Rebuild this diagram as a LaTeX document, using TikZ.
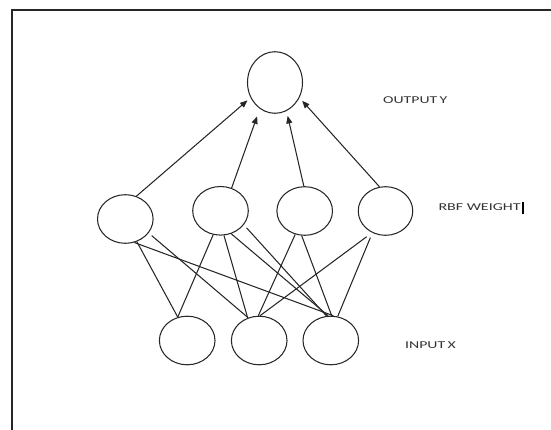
\documentclass[tikz,border=0pt]{standalone}
\usepackage{fontspec}
\setmainfont{Carlito}
\usetikzlibrary{shapes.geometric,arrows.meta,calc}
\begin{document}
\begin{tikzpicture}[x=1pt,y=-1pt,
  neuron/.style={ellipse,draw=black!85,line width=1.05pt,inner sep=0pt,minimum width=55.6pt,minimum height=48.6pt},
  wire/.style={draw=black!85,line width=1.05pt},
  arr/.style={wire,-{Triangle[length=7.5pt,width=6pt]}},
  lbl/.style={anchor=west,inner sep=0pt,text=black!80,font=\fontsize{10.5}{12}\selectfont}]
\useasboundingbox (0,0) rectangle (551,430);
% frame
\coordinate (fbl) at (11.5,431);
\coordinate (ftl) at (11.5,10.5);
\coordinate (ftr) at (552,10.5);
\draw[black!85,line width=2pt] (fbl) -- (ftl) -- (ftr);
% nodes
\node[neuron,minimum width=55pt,minimum height=61.6pt] (out) at (275,82.5) {};
\node[neuron] (h1) at (125.3,219) {};
\node[neuron] (h2) at (220.5,210.8) {};
\node[neuron] (h3) at (304.7,211) {};
\node[neuron,minimum width=54.5pt] (h4) at (385.5,211) {};
\node[neuron] (i1) at (187.2,340.5) {};
\node[neuron] (i2) at (259.2,340.5) {};
\node[neuron] (i3) at (330.8,340.5) {};
% arrows to output
\draw[arr,shorten >=4pt] (h1.64) -- (out.212);
\draw[arr,shorten >=8pt] (h2.64) -- (out.240);
\draw[arr,shorten >=5pt] (h3.92) -- (out.292);
\draw[arr,shorten >=4pt] (h4.104) -- (out.328);
% hidden to input
\draw[wire] (h1.297) -- (i1.112);
\draw[wire] (h1.291) -- (i3.84);
\draw[wire,shorten <=4pt] (h1.329) -- (i2.116);
\draw[wire] (h2.253) -- (i1.112);
\draw[wire] (h2.278) -- (i2.117);
\draw[wire] (h2.295) -- (i3.96);
\draw[wire,shorten <=4pt] (h2.329) -- (i3.100);
\draw[wire] (h3.248) -- (i2.92);
\draw[wire] (h3.263) -- (i3.88);
\coordinate (h4in) at ($(h4.center)+(-18.8,25.7)$);
\draw[wire] (h4in) -- (i2.88);
\draw[wire,shorten <=5pt] (h4.239) -- (i3.74);
% labels
\node[lbl] (ly) at (383,100) {\scalebox{1.5}[1]{OUTPUT\hspace{1.5pt}Y}};
\node[lbl] (lw) at (438.3,206.7) {\scalebox{1.52}[1]{RBF WEIGHT}};
\node[lbl] (lx) at (405,345) {\scalebox{1.5}[1]{INPUT\hspace{1.5pt}X}};
\fill[black] (522,202) rectangle (524.3,214);
\end{tikzpicture}
\end{document}
